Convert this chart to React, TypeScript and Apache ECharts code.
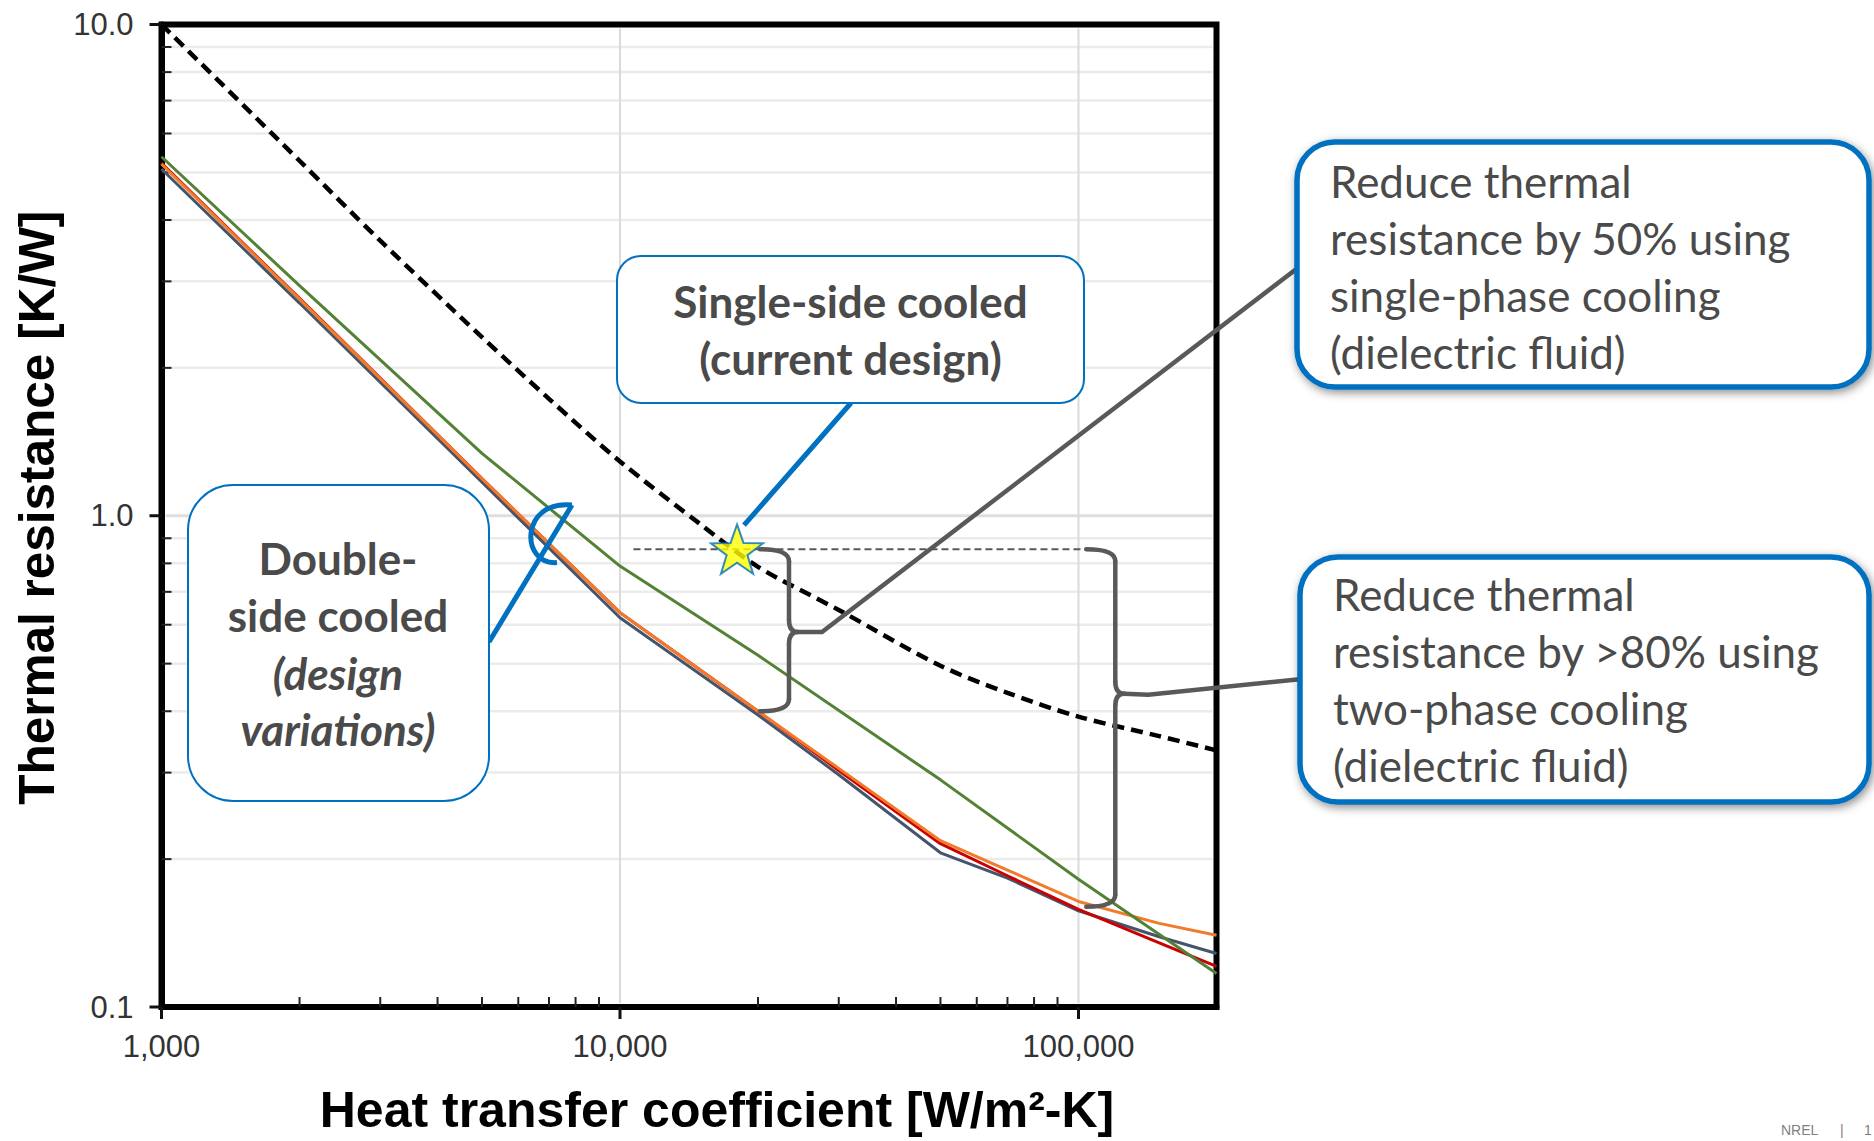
import React, { useEffect, useRef } from "react";
import * as echarts from "echarts";

// ---------------- data ----------------
// Single-side cooled (current design) – dashed black curve
const singleH = [1000, 2000, 3000, 5000, 7000, 10000, 15000, 20000, 30000, 50000, 70000, 100000, 150000, 200000];
const singleR = [10.0, 5.28, 3.63, 2.31, 1.73, 1.29, 0.96, 0.787, 0.643, 0.495, 0.436, 0.39, 0.356, 0.333];

// Double-side cooled design variations
const greenH = [1000, 2000, 5000, 10000, 20000, 50000, 100000, 200000];
const greenR = [5.38, 2.94, 1.34, 0.79, 0.52, 0.29, 0.182, 0.117];

const doubleH = [1000, 2000, 5000, 10000, 20000, 30000, 50000, 70000, 100000, 150000, 200000];
const redR = [5.22, 2.77, 1.19, 0.635, 0.4, 0.303, 0.215, 0.185, 0.158, 0.135, 0.121];
const grayR = [5.08, 2.71, 1.17, 0.62, 0.393, 0.297, 0.206, 0.183, 0.157, 0.139, 0.1285];
const orangeR = [5.2, 2.76, 1.19, 0.635, 0.4, 0.306, 0.218, 0.19, 0.164, 0.148, 0.14];

// current design point (star) and reference level
const starH = 18000;
const starR = 0.855;
const refLineH = [10700, 110000];
const refLineR = 0.855;

// braces (data-space anchors)
const brace50 = { h: 20200, top: 0.855, mid: 0.58, bottom: 0.4 };
const brace80 = { h: 104000, top: 0.855, mid: 0.434, bottom: 0.16 };
const loopAnchor = [7000, 0.92];

// axes
const X_MIN = 1000;
const X_MAX = 200000;
const Y_MIN = 0.1;
const Y_MAX = 10;
const minorR = [0.2, 0.3, 0.4, 0.5, 0.6, 0.7, 0.8, 0.9, 2, 3, 4, 5, 6, 7, 8, 9];
const majorR = [0.1, 1, 10];
const minorH = [2000, 3000, 4000, 5000, 6000, 7000, 8000, 9000, 20000, 30000, 40000, 50000, 60000, 70000, 80000, 90000];
const majorH = [1000, 10000, 100000];
const gridR = [1];
const gridH = [10000, 100000];

const BLUE = "#0070c0";
const DARK = "#595959";
const TXT = "#4a4a4a";

function pairs(h: number[], r: number[]) {
  return h.map((v, i) => [v, r[i]]);
}

function starPath() {
  const pts: string[] = [];
  for (let i = 0; i < 10; i++) {
    const a = -Math.PI / 2 + (i * Math.PI) / 5;
    const rr = i % 2 === 0 ? 50 : 20;
    pts.push(`${(50 + rr * Math.cos(a)).toFixed(2)},${(50 + rr * Math.sin(a)).toFixed(2)}`);
  }
  return "path://M" + pts.join("L") + "Z";
}

function isPow10(v: number) {
  const l = Math.log10(v);
  return Math.abs(l - Math.round(l)) < 1e-6;
}

// kinds: 0 minor h-grid, 1 major h-grid, 2 v-grid, 3 y minor tick, 4 y major tick, 5 x minor tick, 6 x major tick
const axisDecor: number[][] = [
  ...minorR.map((r) => [X_MIN, r, 0]),
  ...gridR.map((r) => [X_MIN, r, 1]),
  ...gridH.map((h) => [h, Y_MIN, 2]),
  ...minorR.map((r) => [X_MIN, r, 3]),
  ...majorR.map((r) => [X_MIN, r, 4]),
  ...minorH.map((h) => [h, Y_MIN, 5]),
  ...majorH.map((h) => [h, Y_MIN, 6]),
];

function renderDecor(params: any, api: any) {
  const kind = api.value(2);
  const p = api.coord([api.value(0), api.value(1)]);
  const cs = params.coordSys;
  const left = cs.x;
  const right = cs.x + cs.width;
  const top = cs.y;
  const bottom = cs.y + cs.height;
  let shape: any;
  let style: any;
  if (kind === 0) {
    shape = { x1: left + 4, y1: p[1], x2: right - 4, y2: p[1] };
    style = { stroke: "#ebebeb", lineWidth: 2.5 };
  } else if (kind === 1) {
    shape = { x1: left + 4, y1: p[1], x2: right - 4, y2: p[1] };
    style = { stroke: "#dedede", lineWidth: 3 };
  } else if (kind === 2) {
    shape = { x1: p[0], y1: top + 4, x2: p[0], y2: bottom - 4 };
    style = { stroke: "#dadada", lineWidth: 2 };
  } else if (kind === 3) {
    shape = { x1: left, y1: p[1], x2: left + 10, y2: p[1] };
    style = { stroke: "#222", lineWidth: 2 };
  } else if (kind === 4) {
    shape = { x1: left - 12, y1: p[1], x2: left, y2: p[1] };
    style = { stroke: "#111", lineWidth: 3 };
  } else if (kind === 5) {
    shape = { x1: p[0], y1: bottom, x2: p[0], y2: bottom - 10 };
    style = { stroke: "#222", lineWidth: 2 };
  } else {
    shape = { x1: p[0], y1: bottom, x2: p[0], y2: bottom + 12 };
    style = { stroke: "#111", lineWidth: 3 };
  }
  return { type: "line", shape, style };
}

function braceElems(x0: number, xv: number, yT: number, yM: number, yB: number) {
  const r = 12;
  const tip = 9;
  const st = { stroke: DARK, lineWidth: 4.5, fill: "none", lineCap: "round" };
  return [
    { type: "bezierCurve", z: 20, shape: { x1: x0, y1: yT, cpx1: xv, cpy1: yT, x2: xv, y2: yT + r }, style: st },
    { type: "line", z: 20, shape: { x1: xv, y1: yT + r, x2: xv, y2: yM - r }, style: st },
    { type: "bezierCurve", z: 20, shape: { x1: xv, y1: yM - r, cpx1: xv, cpy1: yM, x2: xv + tip, y2: yM }, style: st },
    { type: "bezierCurve", z: 20, shape: { x1: xv + tip, y1: yM, cpx1: xv, cpy1: yM, x2: xv, y2: yM + r }, style: st },
    { type: "line", z: 20, shape: { x1: xv, y1: yM + r, x2: xv, y2: yB - r }, style: st },
    { type: "bezierCurve", z: 20, shape: { x1: xv, y1: yB - r, cpx1: xv, cpy1: yB, x2: x0, y2: yB }, style: st },
  ];
}

function textEl(text: string, x: number, y: number, opts: any = {}) {
  return {
    type: "text",
    z: 40,
    x,
    y,
    style: {
      text,
      fill: opts.fill || TXT,
      fontSize: opts.fontSize || 44,
      fontFamily: opts.fontFamily || "Lato",
      fontWeight: opts.fontWeight || "normal",
      fontStyle: opts.fontStyle || "normal",
      align: opts.align || "left",
      textAlign: opts.align || "left",
      verticalAlign: "middle",
      textVerticalAlign: "middle",
    },
  };
}

export default function App() {
  const ref = useRef<HTMLDivElement>(null);

  useEffect(() => {
    const el = ref.current as HTMLDivElement;
    const chart = echarts.init(el, null, { renderer: "svg" });

    const option: any = {
      animation: false,
      backgroundColor: "#ffffff",
      grid: {
        left: 161.5,
        top: 24.5,
        width: 1055,
        height: 982.5,
        show: true,
        borderColor: "#000",
        borderWidth: 6,
        backgroundColor: "#ffffff",
        containLabel: false,
        outerBoundsMode: "none",
      },
      xAxis: {
        type: "log",
        logBase: 10,
        min: X_MIN,
        max: X_MAX,
        axisLine: { show: true, onZero: false, lineStyle: { color: "#000", width: 6 } },
        axisTick: { show: false },
        splitLine: { show: false },
        axisLabel: {
          margin: 24,
          fontSize: 31,
          fontFamily: "Liberation Sans, Arial, sans-serif",
          color: "#333",
          formatter: (v: number) => (isPow10(v) ? Math.round(v).toLocaleString("en-US") : ""),
        },
        name: "Heat transfer coefficient [W/m²-K]",
        nameLocation: "middle",
        nameGap: 79,
        nameMoveOverlap: false,
        nameTextStyle: {
          fontSize: 50,
          lineHeight: 48,
          fontWeight: "bold",
          fontFamily: "Liberation Sans, Arial, sans-serif",
          color: "#000",
          padding: [0, 0, 0, 56],
        },
      },
      yAxis: {
        type: "log",
        logBase: 10,
        min: Y_MIN,
        max: Y_MAX,
        axisLine: { show: true, onZero: false, lineStyle: { color: "#000", width: 6 } },
        axisTick: { show: false },
        splitLine: { show: false },
        axisLabel: {
          margin: 28,
          fontSize: 31,
          fontFamily: "Liberation Sans, Arial, sans-serif",
          color: "#333",
          formatter: (v: number) => (isPow10(v) ? v.toFixed(1) : ""),
        },
        name: "Thermal resistance [K/W]",
        nameLocation: "middle",
        nameGap: 100,
        nameMoveOverlap: false,
        nameTextStyle: {
          fontSize: 49.5,
          fontWeight: "bold",
          fontFamily: "Liberation Sans, Arial, sans-serif",
          color: "#000",
          padding: [0, 0, 0, 16],
        },
      },
      series: [
        {
          type: "custom",
          name: "axis decorations",
          silent: true,
          clip: false,
          z: 1,
          renderItem: renderDecor,
          data: axisDecor,
        },
        {
          type: "line",
          name: "Double-side variant (gray)",
          data: pairs(doubleH, grayR),
          symbol: "none",
          lineStyle: { color: "#44546a", width: 3 },
          z: 2,
        },
        {
          type: "line",
          name: "Double-side variant (red)",
          data: pairs(doubleH, redR),
          symbol: "none",
          lineStyle: { color: "#cc0000", width: 3 },
          z: 3,
        },
        {
          type: "line",
          name: "Double-side variant (orange)",
          data: pairs(doubleH, orangeR),
          symbol: "none",
          lineStyle: { color: "#f07c2b", width: 3 },
          z: 3,
        },
        {
          type: "line",
          name: "Double-side variant (green)",
          data: pairs(greenH, greenR),
          symbol: "none",
          lineStyle: { color: "#538135", width: 3 },
          z: 4,
        },
        {
          type: "line",
          name: "Single-side cooled",
          data: pairs(singleH, singleR),
          symbol: "none",
          smooth: 0.3,
          lineStyle: { color: "#000", width: 4.5, type: [12, 7] },
          z: 5,
        },
        {
          type: "line",
          name: "Reference level",
          data: refLineH.map((h) => [h, refLineR]),
          symbol: "none",
          lineStyle: { color: DARK, width: 2, type: [7, 4] },
          z: 5,
        },
        {
          type: "scatter",
          name: "Current design",
          data: [[starH, starR]],
          symbol: starPath(),
          symbolSize: 52,
          symbolKeepAspect: true,
          itemStyle: { color: "#ffff00", borderColor: BLUE, borderWidth: 2 },
          z: 30,
        },
      ],
    };

    chart.setOption(option);

    const px = (h: number, r: number) => chart.convertToPixel({ gridIndex: 0 }, [h, r]) as number[];

    const star = px(starH, starR);
    const b1x0 = px(brace50.h, brace50.top)[0];
    const b1 = {
      x0: b1x0,
      xv: b1x0 + 29,
      yT: px(brace50.h, brace50.top)[1],
      yM: px(brace50.h, brace50.mid)[1],
      yB: px(brace50.h, brace50.bottom)[1],
    };
    const b2x0 = px(brace80.h, brace80.top)[0];
    const b2 = {
      x0: b2x0,
      xv: b2x0 + 29,
      yT: px(brace80.h, brace80.top)[1],
      yM: px(brace80.h, brace80.mid)[1],
      yB: px(brace80.h, brace80.bottom)[1],
    };
    const A = px(loopAnchor[0], loopAnchor[1]);

    const boxShadow = {
      shadowBlur: 10,
      shadowColor: "rgba(0,0,0,0.45)",
      shadowOffsetX: 2,
      shadowOffsetY: 3,
    };

    const elements: any[] = [
      // braces
      ...braceElems(b1.x0, b1.xv, b1.yT, b1.yM, b1.yB),
      ...braceElems(b2.x0, b2.xv, b2.yT, b2.yM, b2.yB),
      // connectors from braces to callouts
      {
        type: "polyline",
        z: 20,
        shape: { points: [[b1.xv + 9, b1.yM], [b1.xv + 33, b1.yM], [1299, 267]] },
        style: { stroke: DARK, lineWidth: 4.5, fill: "none" },
      },
      {
        type: "polyline",
        z: 20,
        shape: { points: [[b2.xv + 9, b2.yM], [b2.xv + 33, b2.yM + 1], [1302, 679]] },
        style: { stroke: DARK, lineWidth: 4.5, fill: "none" },
      },
      // pointer from single-side callout to star
      {
        type: "line",
        z: 25,
        shape: { x1: 851, y1: 403, x2: star[0] + 7, y2: star[1] - 24 },
        style: { stroke: BLUE, lineWidth: 5 },
      },
      // pointer + loop for double-side callout
      {
        type: "line",
        z: 25,
        shape: { x1: 489, y1: 642, x2: A[0] + 23, y2: A[1] - 28.5 },
        style: { stroke: BLUE, lineWidth: 5 },
      },
      {
        type: "bezierCurve",
        z: 25,
        shape: {
          x1: A[0] + 23,
          y1: A[1] - 28.5,
          cpx1: A[0] - 29,
          cpy1: A[1] - 34,
          cpx2: A[0] - 29,
          cpy2: A[1] + 32,
          x2: A[0] + 8,
          y2: A[1] + 29,
        },
        style: { stroke: BLUE, lineWidth: 5, fill: "none" },
      },
      // callout boxes
      {
        type: "rect",
        z: 30,
        shape: { x: 617, y: 256, width: 467, height: 147, r: 24 },
        style: { fill: "#fff", stroke: BLUE, lineWidth: 2 },
      },
      {
        type: "rect",
        z: 30,
        shape: { x: 188, y: 485, width: 301, height: 316, r: 45 },
        style: { fill: "#fff", stroke: BLUE, lineWidth: 2 },
      },
      {
        type: "rect",
        z: 30,
        shape: { x: 1297, y: 142, width: 572, height: 245, r: 38 },
        style: { fill: "#fff", stroke: BLUE, lineWidth: 5.5, ...boxShadow },
      },
      {
        type: "rect",
        z: 30,
        shape: { x: 1300, y: 557, width: 569, height: 245, r: 38 },
        style: { fill: "#fff", stroke: BLUE, lineWidth: 5.5, ...boxShadow },
      },
      // callout texts
      textEl("Single-side cooled", 850.5, 301, { align: "center", fontWeight: "bold" }),
      textEl("(current design)", 850.5, 358, { align: "center", fontWeight: "bold" }),
      textEl("Double-", 338, 558, { align: "center", fontWeight: "bold" }),
      textEl("side cooled", 338, 615, { align: "center", fontWeight: "bold" }),
      textEl("(design", 338, 673, { align: "center", fontWeight: "bold", fontStyle: "italic" }),
      textEl("variations)", 338, 729, { align: "center", fontWeight: "bold", fontStyle: "italic" }),
      textEl("Reduce thermal", 1330, 181),
      textEl("resistance by 50% using", 1330, 238),
      textEl("single-phase cooling", 1330, 295),
      textEl("(dielectric fluid)", 1330, 352),
      textEl("Reduce thermal", 1333, 594),
      textEl("resistance by >80% using", 1333, 651),
      textEl("two-phase cooling", 1333, 708),
      textEl("(dielectric fluid)", 1333, 765),
      // footer
      textEl("NREL", 1781, 1130, { fontSize: 14, fontFamily: "Liberation Sans", fill: "#7f7f7f" }),
      textEl("|", 1840, 1130, { fontSize: 14, fontFamily: "Liberation Sans", fill: "#7f7f7f" }),
      textEl("1", 1864, 1130, { fontSize: 14, fontFamily: "Liberation Sans", fill: "#7f7f7f" }),
    ];

    chart.setOption({ graphic: { elements } });

    return () => {
      chart.dispose();
    };
  }, []);

  return (
    <div
      ref={ref}
      style={{ position: "fixed", left: 0, top: 0, width: 1874, height: 1141, background: "#fff" }}
    />
  );
}
